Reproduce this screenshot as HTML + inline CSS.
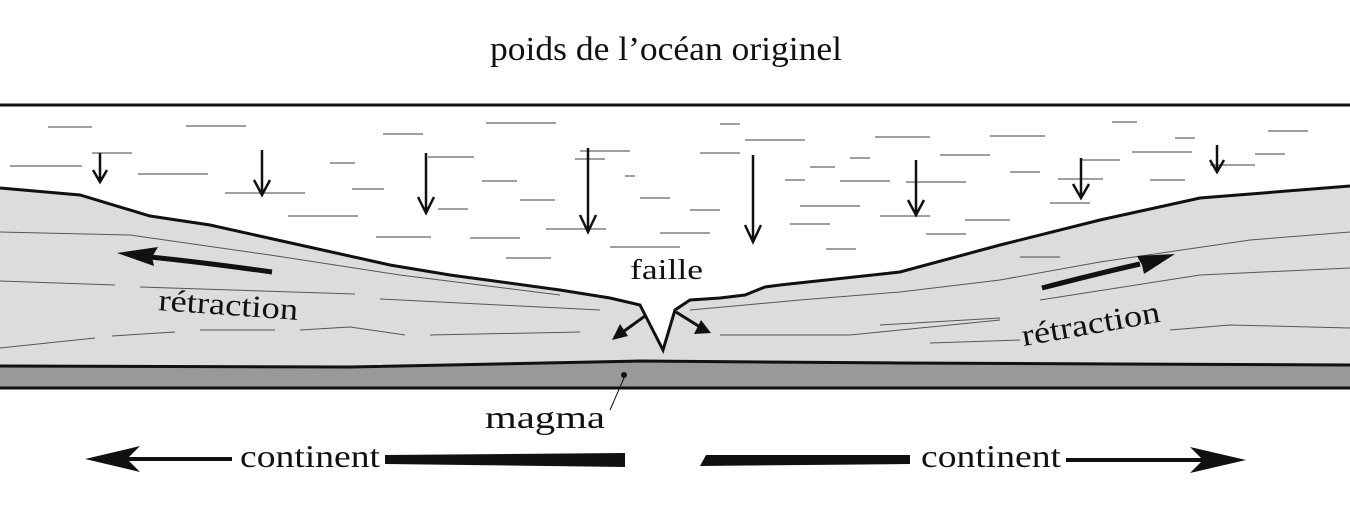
<!DOCTYPE html>
<html><head><meta charset="utf-8"><style>
html,body{margin:0;padding:0;background:#fff;}
svg{display:block;}
text{font-family:"Liberation Serif",serif;fill:#111;}
</style></head><body>
<svg width="1350" height="508" viewBox="0 0 1350 508" xmlns="http://www.w3.org/2000/svg">
<text x="490" y="60" font-size="34" textLength="352" lengthAdjust="spacingAndGlyphs">poids de l’océan originel</text>
<!-- crust -->
<path d="M0,188 L80,195 L150,216 L210,225 L300,245 L390,265 L450,275 L560,290 L610,298 L640,305 L663,350 L675,310 L690,300 L720,298 L745,295 L765,287 L780,285 L900,272 L1000,245 L1100,220 L1200,198 L1350,186 L1350,365 L900,363 L640,361 L350,367 L0,366 Z" fill="#dcdcdc"/>
<path d="M0,188 L80,195 L150,216 L210,225 L300,245 L390,265 L450,275 L560,290 L610,298 L640,305 L663,350 L675,310 L690,300 L720,298 L745,295 L765,287 L780,285 L900,272 L1000,245 L1100,220 L1200,198 L1350,186" fill="none" stroke="#111" stroke-width="3"/>
<path d="M0,366 L350,367 L640,361 L900,363 L1350,365 L1350,388 L0,388 Z" fill="#999"/>
<path d="M0,366 L350,367 L640,361 L900,363 L1350,365" fill="none" stroke="#111" stroke-width="3"/>
<line x1="0" y1="105" x2="1350" y2="105" stroke="#111" stroke-width="3"/>
<line x1="0" y1="388" x2="1350" y2="388" stroke="#111" stroke-width="3"/>
<!-- crust strata -->
<g stroke="#555" stroke-width="1" fill="none">
<path d="M0,232 L130,235 L270,255 L400,275 L560,295"/>
<path d="M0,281 L115,285 M140,287 L355,294 M380,299 L600,310"/>
<path d="M0,348 L95,338 M112,336 L175,332 M200,330 L275,330 M300,330 L350,327 L405,335 M430,335 L580,332"/>
<path d="M690,310 L800,300 L900,292 L1000,280 L1100,262 L1250,240 L1350,232"/>
<path d="M720,335 L850,335 L1000,320 M1040,300 L1200,275 L1350,268"/>
<path d="M930,343 L1020,340 M1170,330 L1230,325 L1350,328"/>
<path d="M880,325 L1000,318"/>
</g>
<!-- water dashes -->
<g stroke="#666" stroke-width="1.2">
<path d="M48,127h44 M10,166h72 M92,153h40 M138,174h70 M186,126h60 M225,193h80 M288,216h70 M330,163h25 M352,189h32 M376,237h55 M383,134h40 M428,157h46 M438,209h30 M470,238h50 M486,123h70 M482,181h35 M506,258h45 M520,200h35 M546,229h60 M575,159h30 M580,151h50 M610,247h70 M625,176h10 M640,198h30 M660,233h50 M690,210h30 M700,153h40 M720,124h20 M745,140h60 M785,180h20 M790,224h40 M800,206h60 M810,167h25 M826,249h30 M850,158h20 M840,181h50 M875,137h55 M880,216h50 M906,182h60 M926,234h40 M940,155h50 M965,220h45 M990,136h55 M1010,172h30 M1020,257h40 M1050,203h40 M1058,179h45 M1080,160h40 M1112,122h25 M1132,152h60 M1150,180h35 M1175,138h20 M1210,165h45 M1268,131h40 M1255,154h30"/>
</g>
<!-- down arrows -->
<g stroke="#111" stroke-width="2.5" fill="none">
<path d="M100,153V182 M93,170L100,182L107,170"/>
<path d="M262,150V195 M254,180L262,195L270,180"/>
<path d="M426,153V213 M418,197L426,213L434,197"/>
<path d="M588,148V232 M580,215L588,232L596,215"/>
<path d="M753,155V242 M745,225L753,242L761,225"/>
<path d="M916,160V215 M908,200L916,215L924,200"/>
<path d="M1081,158V198 M1073,184L1081,198L1089,184"/>
<path d="M1217,145V172 M1210,160L1217,172L1224,160"/>
</g>
<!-- retraction arrows -->
<path d="M272,272 Q200,262 150,257" fill="none" stroke="#111" stroke-width="5"/>
<path d="M117,253 L158,247 L152,257 L154,266 Z" fill="#111"/>
<path d="M1042,288 Q1100,273 1140,264" fill="none" stroke="#111" stroke-width="5"/>
<path d="M1175,254 L1137,256 L1142,265 L1144,274 Z" fill="#111"/>
<text x="158" y="315" font-size="31" textLength="140" lengthAdjust="spacingAndGlyphs" transform="rotate(4 228 310)">rétraction</text>
<text x="1020" y="334" font-size="31" textLength="140" lengthAdjust="spacingAndGlyphs" transform="rotate(-10 1090 320)">rétraction</text>
<text x="630" y="279" font-size="29" textLength="73" lengthAdjust="spacingAndGlyphs">faille</text>
<!-- fault arrows -->
<g stroke="#111" stroke-width="3" fill="none">
<path d="M645,316 L620,334"/>
<path d="M676,312 L700,327"/>
</g>
<path d="M612,340 L620,324 L628,336 Z" fill="#111"/>
<path d="M711,333 L694,334 L701,320 Z" fill="#111"/>
<!-- magma -->
<circle cx="624" cy="375" r="3" fill="#111"/>
<line x1="624" y1="378" x2="610" y2="410" stroke="#111" stroke-width="1"/>
<text x="485" y="428" font-size="32" textLength="120" lengthAdjust="spacingAndGlyphs">magma</text>
<!-- continent arrows -->
<text x="240" y="467" font-size="32" textLength="140" lengthAdjust="spacingAndGlyphs">continent</text>
<text x="921" y="467" font-size="32" textLength="140" lengthAdjust="spacingAndGlyphs">continent</text>
<path d="M232,459 H110" stroke="#111" stroke-width="4"/>
<path d="M85,459 L140,446 L127,459 L140,472 Z" fill="#111"/>
<path d="M385,455 L625,453 L625,467 L385,464 Z" fill="#111"/>
<path d="M706,455 L910,455 L910,464 L700,466 Z" fill="#111"/>
<path d="M1066,460 H1220" stroke="#111" stroke-width="4"/>
<path d="M1246,460 L1190,447 L1203,460 L1190,473 Z" fill="#111"/>
</svg>
</body></html>
